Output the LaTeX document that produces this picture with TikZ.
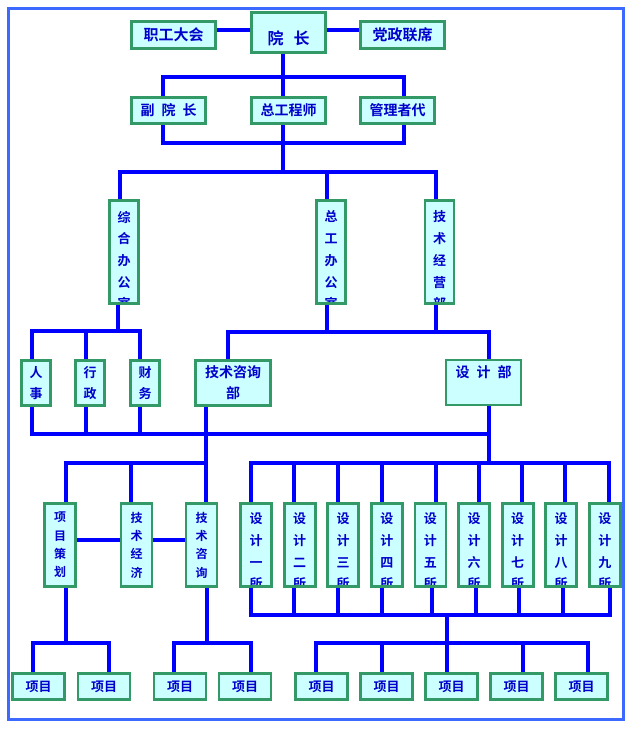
\documentclass[tikz,border=0pt]{standalone}
\usepackage{fontspec}
\newfontfamily\cjk{Noto Sans CJK SC}[BoldFont={Noto Sans CJK SC Bold}]
\usepackage{tikz}
\usetikzlibrary{positioning}
\definecolor{boxgreen}{RGB}{51,153,102}
\definecolor{boxfill}{RGB}{204,255,255}
\definecolor{txtblue}{RGB}{0,0,204}
\definecolor{linkblue}{RGB}{0,0,255}
\definecolor{frameblue}{RGB}{60,105,255}

\begin{document}
\begin{tikzpicture}[x=1pt,y=-1pt]
	
	\tikzset{
		unit/.style={draw=boxgreen, fill=boxfill, line width=2.8pt, text=txtblue,
			inner sep=0pt, align=center},
		column text/.style={draw=none, fill=none, minimum width=0pt, minimum height=0pt,
			inner sep=0pt, anchor=north, align=center, text=txtblue,
			font=\cjk\bfseries\fontsize{13pt}{21.7pt}\selectfont},
		side/.style={unit, minimum width=84pt, minimum height=27pt,
			font=\cjk\bfseries\fontsize{15pt}{18pt}\selectfont},
		head/.style={unit, minimum width=74pt, minimum height=40pt,
			font=\cjk\bfseries\fontsize{16pt}{19pt}\selectfont},
		deputy/.style={unit, minimum width=74pt, minimum height=26pt,
			font=\cjk\bfseries\fontsize{14pt}{17pt}\selectfont},
		office/.style={unit, minimum width=29pt, minimum height=103pt,
			path picture={\node[column text] at ([yshift=-9pt]path picture bounding box.north) {#1};}},
		section/.style={unit, minimum width=29pt, minimum height=45pt,
			font=\cjk\bfseries\fontsize{13pt}{20.5pt}\selectfont},
		dept/.style={unit, minimum width=75pt, minimum height=45pt,
			font=\cjk\bfseries\fontsize{14pt}{21pt}\selectfont},
		group/.style={unit, minimum width=31pt, minimum height=83pt,
			font=\cjk\bfseries\fontsize{12pt}{18.3pt}\selectfont},
		studio/.style={unit, minimum width=31pt, minimum height=83pt,
			path picture={\node[column text] at ([yshift=-8pt]path picture bounding box.north) {#1};}},
		item/.style={unit, minimum width=52pt, minimum height=26pt,
			font=\cjk\bfseries\fontsize{13pt}{16pt}\selectfont},
		link/.style={draw=linkblue, line width=4pt},
		border/.style={draw=frameblue, line width=3pt}
	}
	
	\useasboundingbox (0,0) rectangle (641,729);
	\draw[border] (8,8) rectangle (623,719);
	
	\node[side] (congress) at (173.5,35) {职工大会};
	\node[head] (dean) at (288.5,32.5) {\raisebox{-6pt}[0.88em][0.12em]{院\hspace{10pt}长}};
	\node[side] (party) at (402.5,35) {党政联席};
	\node[deputy] (vice) at (168.5,110.5) {副\hspace{7pt}院\hspace{7pt}长};
	\node[deputy] (chief) at (288.5,110.5) {总工程师};
	\node[deputy] (rep) at (397.5,110.5) {管理者代};
	
	\node[office={综\\合\\办\\公\\室}] (general) at (124,252) {};
	\node[office={总\\工\\办\\公\\室}] (engoffice) at (331,252) {};
	\node[office={技\\术\\经\\营\\部}] (business) at (439.5,252) {};
	
	\node[section] (staff) at (36,383) {人\\事};
	\node[section] (admin) at (90,383) {行\\政};
	\node[section] (finance) at (145,383) {财\\务};
	\node[dept] (consult) at (233,383) {技术咨询\\部};
	\node[dept] (design) at (483.5,382.5) {设\hspace{7pt}计\hspace{7pt}部\\\phantom{部}};
	
	\node[group] (planning) at (60,545) {项\\目\\策\\划};
	\node[group] (economy) at (136.5,545) {技\\术\\经\\济};
	\node[group] (advice) at (201.5,545) {技\\术\\咨\\询};
	\node[studio={设\\计\\一\\所}] (d1) at (256,545) {};
	\node[studio={设\\计\\二\\所}] (d2) at (299.6,545) {};
	\node[studio={设\\计\\三\\所}] (d3) at (343.2,545) {};
	\node[studio={设\\计\\四\\所}] (d4) at (386.8,545) {};
	\node[studio={设\\计\\五\\所}] (d5) at (430.4,545) {};
	\node[studio={设\\计\\六\\所}] (d6) at (474,545) {};
	\node[studio={设\\计\\七\\所}] (d7) at (517.6,545) {};
	\node[studio={设\\计\\八\\所}] (d8) at (561.2,545) {};
	\node[studio={设\\计\\九\\所}] (d9) at (604.8,545) {};
	
	\node[item] (p1) at (38.5,686.5) {项目};
	\node[item] (p2) at (104,686.5) {项目};
	\node[item] (p3) at (180,686.5) {项目};
	\node[item] (p4) at (245,686.5) {项目};
	\node[item] (p5) at (321.5,686.5) {项目};
	\node[item] (p6) at (386.5,686.5) {项目};
	\node[item] (p7) at (451.5,686.5) {项目};
	\node[item] (p8) at (516.5,686.5) {项目};
	\node[item] (p9) at (581.5,686.5) {项目};
	
	\coordinate (b1) at (283,77);
	\coordinate (b2) at (283,143);
	\coordinate (b3) at (283,172);
	\coordinate (b4) at (118,331);
	\coordinate (b5) at (327,332);
	\coordinate (b6) at (489,434);
	\coordinate (b7) at (489,463);
	\coordinate (b8) at (206,463);
	\coordinate (b9) at (447,615);
	\coordinate (b10) at (447,643);
	\coordinate (b11) at (66,643);
	\coordinate (b12) at (207,643);
	
	\draw[link] ([yshift=5pt]congress.east) -- ([yshift=2.5pt]dean.west)
		([yshift=2.5pt]dean.east) -- ([yshift=5pt]party.west);
	\draw[link] ([xshift=-5.5pt]dean.south) -- (b1) -- ([xshift=-5.5pt]chief.north);
	\draw[link] ([xshift=-5.5pt]vice.north) |- (b1) -| ([xshift=6.5pt]rep.north);
	\draw[link] ([xshift=-5.5pt]vice.south) |- (b2) -| ([xshift=6.5pt]rep.south);
	\draw[link] ([xshift=-5.5pt]chief.south) -- (b2) -- (b3);
	\draw[link] ([xshift=-4pt]general.north) |- (b3) -| ([xshift=-4pt]business.north)
		([xshift=-4.5pt]engoffice.north) |- (b3);
	
	\draw[link] ([xshift=-6pt]general.south) -- (b4);
	\draw[link] ([xshift=-4pt]staff.north) |- (b4) -| ([xshift=-5pt]finance.north)
		([xshift=-4pt]admin.north) |- (b4);
	\draw[link] ([xshift=-4pt]engoffice.south) -- (b5);
	\draw[link] ([xshift=-5pt]consult.north) |- (b5) -| ([xshift=5.5pt]design.north)
		([xshift=-3.5pt]business.south) |- (b5);
	
	\draw[link] ([xshift=5.5pt]design.south) -- (b6) -- (b7);
	\draw[link] ([xshift=-4pt]staff.south) |- (b6)
		([xshift=-4pt]admin.south) |- (b6)
		([xshift=-5pt]finance.south) |- (b6);
	\draw[link] ([xshift=-27pt]consult.south) -- (b8) -- ([xshift=4.5pt]advice.north);
	\draw[link] ([xshift=6pt]planning.north) |- (b8)
		([xshift=-5.5pt]economy.north) |- (b8);
	\draw[link] ([yshift=5pt]planning.east) -- ([yshift=5pt]economy.west)
		([yshift=5pt]economy.east) -- ([yshift=5pt]advice.west);
	
	\draw[link] ([xshift=-5pt]d1.north) |- (b7) -| ([xshift=4pt]d9.north)
		([xshift=-5.5pt]d2.north) |- (b7) ([xshift=-5pt]d3.north) |- (b7)
		([xshift=-5pt]d4.north) |- (b7) ([xshift=5.5pt]d5.north) |- (b7)
		([xshift=5pt]d6.north) |- (b7) ([xshift=4.5pt]d7.north) |- (b7)
		([xshift=4pt]d8.north) |- (b7);
	\draw[link] ([xshift=-5pt]d1.south) |- (b9) -| ([xshift=5pt]d9.south)
		([xshift=-5.5pt]d2.south) |- (b9) ([xshift=-5pt]d3.south) |- (b9)
		([xshift=-5pt]d4.south) |- (b9) ([xshift=1.5pt]d5.south) |- (b9)
		([xshift=2pt]d6.south) |- (b9) ([xshift=1.5pt]d7.south) |- (b9)
		([xshift=2pt]d8.south) |- (b9);
	
	\draw[link] (b9) -- (b10);
	\draw[link] ([xshift=-5.5pt]p5.north) |- (b10) -| ([xshift=6.5pt]p9.north)
		([xshift=-4.5pt]p6.north) |- (b10) ([xshift=-4.5pt]p7.north) |- (b10)
		([xshift=6.5pt]p8.north) |- (b10);
	\draw[link] ([xshift=6pt]planning.south) -- (b11);
	\draw[link] ([xshift=-5.5pt]p1.north) |- (b11) -| ([xshift=5pt]p2.north);
	\draw[link] ([xshift=5.5pt]advice.south) -- (b12);
	\draw[link] ([xshift=-6pt]p3.north) |- (b12) -| ([xshift=6pt]p4.north);
	
\end{tikzpicture}
\end{document}
